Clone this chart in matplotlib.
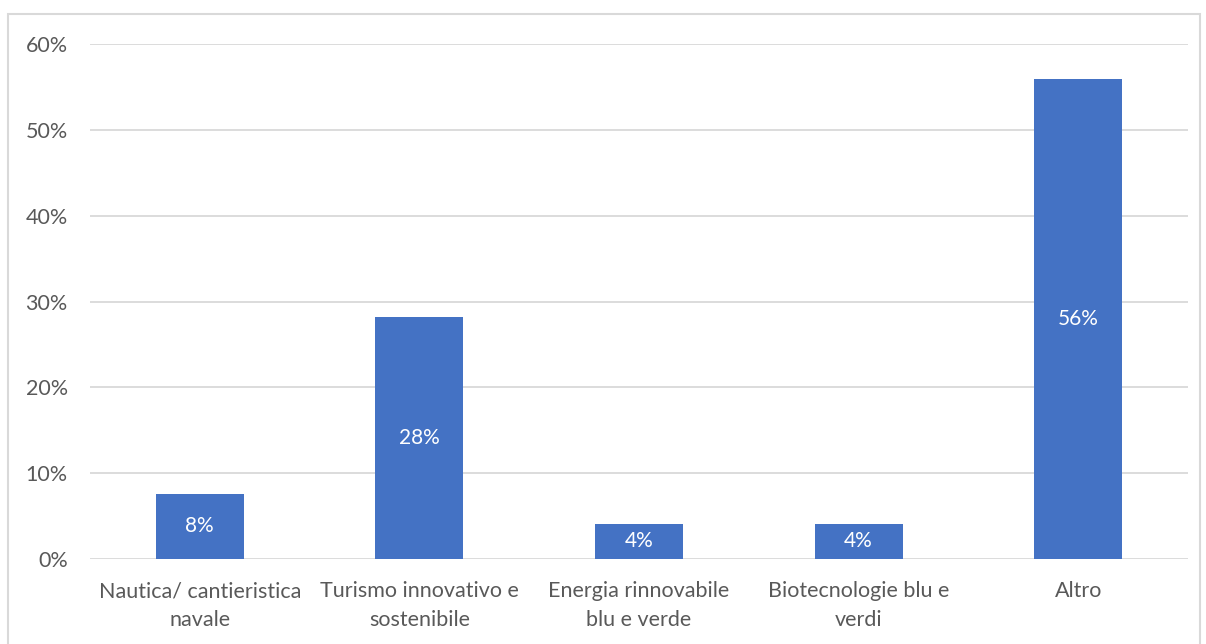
import matplotlib
matplotlib.use("Agg")
import matplotlib.pyplot as plt
from matplotlib.patches import Rectangle
from matplotlib.ticker import FuncFormatter

categories = ["Nautica/ cantieristica\nnavale", "Turismo innovativo e\nsostenibile",
              "Energia rinnovabile\nblu e verde", "Biotecnologie blu e\nverdi", "Altro"]
values = [0.076, 0.282, 0.041, 0.041, 0.559]
yticks = [0, 0.1, 0.2, 0.3, 0.4, 0.5, 0.6]

BLUE = "#4472C4"
GRAY = "#595959"
GRID = "#D9D9D9"

plt.rcParams['font.family'] = ['Lato', 'DejaVu Sans']

fig = plt.figure(figsize=(12.06, 6.44), dpi=100)
W, H = 1206, 644
ax = fig.add_axes([90 / W, 1 - 559 / H, (1188 - 90) / W, (559 - 44) / H])

# chart frame
fig.patches.append(Rectangle((8 / W, -0.1), (1200 - 8) / W, 1.1 - 14 / H,
                             transform=fig.transFigure, fill=False,
                             edgecolor="#D9D9D9", linewidth=1.5))

x = range(len(categories))
bars = ax.bar(x, values, width=0.4, color=BLUE, zorder=3)
for b, v in zip(bars, values):
    ax.text(b.get_x() + b.get_width() / 2, v / 2, f"{round(v * 100):.0f}%",
            ha="center", va="center", color="white", fontsize=15, zorder=4)

ax.set_xlim(-0.5, len(categories) - 0.5)
ax.set_ylim(0, 0.6)
ax.set_yticks(yticks)
ax.yaxis.set_major_formatter(FuncFormatter(lambda v, p: f"{v * 100:.0f}%"))
ax.set_xticks(list(x))
ax.set_xticklabels(categories, linespacing=1.55)
ax.tick_params(axis="both", length=0, colors=GRAY, labelsize=15.5)
ax.tick_params(axis="x", pad=16)
ax.tick_params(axis="y", pad=16)
ax.grid(axis="y", color=GRID, linewidth=1.3, zorder=0)
for s in ax.spines.values():
    s.set_visible(False)

fig.savefig("out.png", dpi=100)
